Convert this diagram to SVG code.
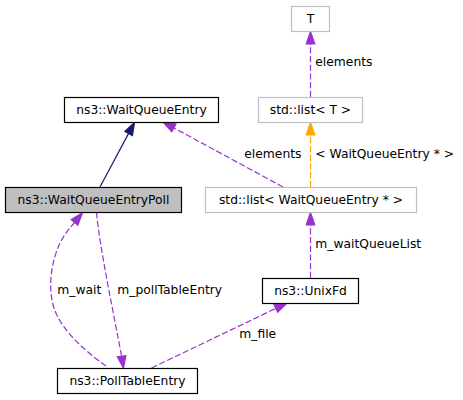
<svg xmlns="http://www.w3.org/2000/svg" width="463" height="400" viewBox="0 0 463 400">
<style>
  text { font-family: "DejaVu Sans", "Liberation Sans", sans-serif; font-size: 12.3px; fill: #000; }
  .nl { text-anchor: middle; }
  .box { fill: #fff; stroke: #000; stroke-width: 1.2; }
  .gbox { fill: #fff; stroke: #bfbfbf; stroke-width: 1.2; }
  .cur { fill: #bfbfbf; stroke: #000; stroke-width: 1.2; }
  .e { fill: none; stroke-width: 1.2; }
  .p { stroke: #9a32cd; stroke-dasharray: 6.2,2.5; }
  .o { stroke: #ffa500; stroke-dasharray: 6.2,2.5; }
  .n { stroke: #191970; }
  .pa { fill: #9a32cd; stroke: #9a32cd; stroke-width: 1.2; }
  .oa { fill: #ffa500; stroke: #ffa500; stroke-width: 1.2; }
  .na { fill: #191970; stroke: #191970; stroke-width: 1.2; }
</style>
<rect width="463" height="400" fill="#fff"/>
<g id="connectors">
  <!-- std::list<T> -> T -->
  <path class="e p" d="M310.5,97 L310.5,44"/>
  <polygon class="pa" points="310.5,31.5 306.2,43.9 314.8,43.9"/>
  <text x="315.3" y="66">elements</text>
  <!-- std::list<WQE*> -> std::list<T> -->
  <path class="e o" d="M310.5,187 L310.5,135"/>
  <polygon class="oa" points="310.5,122.5 306.2,134.9 314.8,134.9"/>
  <text x="315.3" y="157.7">&lt; WaitQueueEntry * &gt;</text>
  <!-- std::list<WQE*> -> WaitQueueEntry -->
  <path class="e p" d="M283,187 L173.9,127.9"/>
  <polygon class="pa" points="163,122 171.8,131.7 176,124"/>
  <text x="244.3" y="157.7">elements</text>
  <!-- WaitQueueEntryPoll -> WaitQueueEntry (inheritance) -->
  <path class="e n" d="M100,187 L128.6,133.4"/>
  <polygon class="na" points="134.5,122.5 124.9,131.4 132.4,135.5"/>
  <!-- UnixFd -> std::list<WQE*> -->
  <path class="e p" d="M310.5,278 L310.5,225"/>
  <polygon class="pa" points="310.5,212.5 306.2,224.9 314.8,224.9"/>
  <text x="315.3" y="248.3">m_waitQueueList</text>
  <!-- PollTableEntry -> WaitQueueEntryPoll (m_wait) -->
  <path class="e p" d="M106,366 C86,352 61,330 54,308 C47,286 52,260 60,243 C64,235 69,229 74.5,222.5"/>
  <polygon class="pa" points="82.5,212.8 71.2,219.7 77.8,225.3"/>
  <text x="57.3" y="294.3">m_wait</text>
  <!-- WaitQueueEntryPoll -> PollTableEntry (m_pollTableEntry) -->
  <path class="e p" d="M96.5,212.5 C100,250 115,320 121.5,356"/>
  <polygon class="pa" points="123.5,368.3 117.3,356.8 125.9,355.8"/>
  <text x="117.3" y="294.3">m_pollTableEntry</text>
  <!-- PollTableEntry -> UnixFd (m_file) -->
  <path class="e p" d="M151.5,368 L275.8,308.4"/>
  <polygon class="pa" points="287,303 273.9,304.5 277.7,312.3"/>
  <text x="239.3" y="338">m_file</text>
</g>
<g id="node-T">
  <rect class="gbox" x="291.5" y="6.5" width="38" height="25"/>
  <text class="nl" x="310.5" y="23.2">T</text>
</g>
<g id="node-list-T">
  <rect class="gbox" x="258.5" y="97.5" width="104" height="25"/>
  <text class="nl" x="310.5" y="114.2">std::list&lt; T &gt;</text>
</g>
<g id="node-WaitQueueEntry">
  <rect class="box" x="64.5" y="97.5" width="154" height="25"/>
  <text class="nl" x="141.5" y="114.2">ns3::WaitQueueEntry</text>
</g>
<g id="node-WaitQueueEntryPoll">
  <rect class="cur" x="5.5" y="187.5" width="176" height="25"/>
  <text class="nl" x="93.5" y="204.2">ns3::WaitQueueEntryPoll</text>
</g>
<g id="node-list-WQE">
  <rect class="gbox" x="205.5" y="187.5" width="211" height="25"/>
  <text class="nl" x="311" y="204.2">std::list&lt; WaitQueueEntry * &gt;</text>
</g>
<g id="node-UnixFd">
  <rect class="box" x="262.5" y="278.5" width="96" height="25"/>
  <text class="nl" x="310.5" y="295.2">ns3::UnixFd</text>
</g>
<g id="node-PollTableEntry">
  <rect class="box" x="57.5" y="368.5" width="140" height="25"/>
  <text class="nl" x="127.5" y="385.2">ns3::PollTableEntry</text>
</g>
</svg>
